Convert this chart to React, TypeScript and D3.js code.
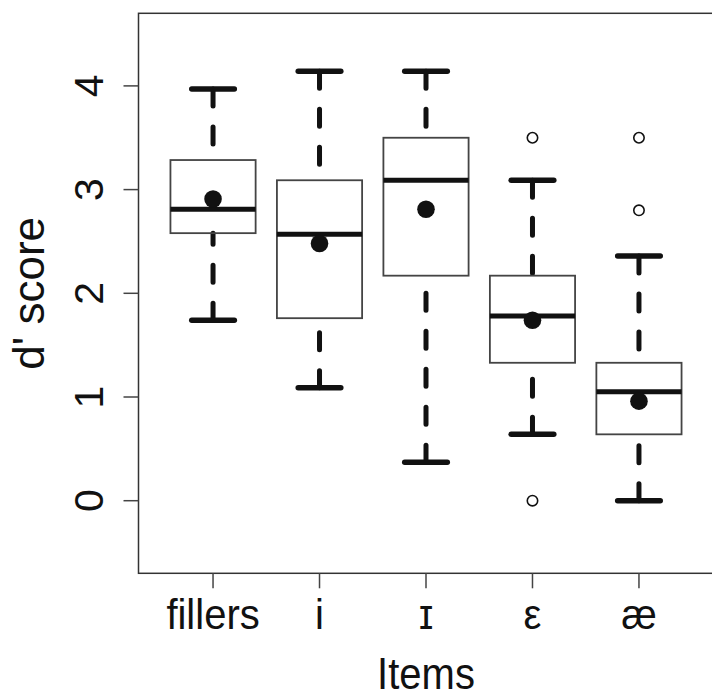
import React from "react";
import * as d3 from "d3";

const categories = ["fillers", "i", "ɪ", "ε", "æ"];
const whiskerLow = [1.74, 1.09, 0.37, 0.64, 0.0];
const q1 = [2.58, 1.76, 2.17, 1.33, 0.64];
const medians = [2.81, 2.57, 3.09, 1.78, 1.05];
const q3 = [3.285, 3.09, 3.5, 2.17, 1.33];
const whiskerHigh = [3.97, 4.14, 4.14, 3.09, 2.36];
const means = [2.91, 2.48, 2.81, 1.74, 0.96];
const outliers: number[][] = [[], [], [], [3.5, 0], [3.5, 2.8]];
const yTicks = [0, 1, 2, 3, 4];
const yLabel = "d' score";
const xLabel = "Items";

export default function App() {
  const W = 712;
  const H = 698;
  const left = 138.5;
  const right = 713.5;
  const top = 13.3;
  const bottom = 573.3;
  const x = d3.scaleLinear().domain([0.3, categories.length + 0.7]).range([left, right]);
  const y = d3.scaleLinear().domain([-0.7, 4.7]).range([bottom, top]);
  const boxHalf = x(1.4) - x(1);
  const stapleHalf = x(1.2) - x(1);
  const font = "'Liberation Sans', Arial, Helvetica, sans-serif";
  const ink = "#111";

  return (
    <div style={{ position: "absolute", left: 0, top: 0 }}>
      <svg width={W} height={H} style={{ display: "block", background: "#fff" }}>
        {/* frame */}
        <rect x={left} y={top} width={right - left} height={bottom - top} fill="none" stroke="#333" strokeWidth={1.5} />
        {/* y axis ticks */}
        {yTicks.map((t) => (
          <g key={"yt" + t}>
            <line x1={left - 15} x2={left} y1={y(t)} y2={y(t)} stroke="#444" strokeWidth={1.5} />
            <text
              transform={`translate(${103},${y(t)}) rotate(-90)`}
              textAnchor="middle"
              fontFamily={font}
              fontSize={41}
              fill={ink}
            >
              {t}
            </text>
          </g>
        ))}
        {/* x axis ticks */}
        {categories.map((c, i) => (
          <g key={"xt" + i}>
            <line x1={x(i + 1)} x2={x(i + 1)} y1={bottom} y2={bottom + 15} stroke="#444" strokeWidth={1.5} />
            <text
              transform={`translate(${x(i + 1)},${629}) scale(1,1.08)`}
              textAnchor="middle"
              fontFamily={font}
              fontSize={40}
              fill={ink}
            >
              {c}
            </text>
          </g>
        ))}
        {/* axis titles */}
        <text
          transform={`translate(${(left + right) / 2},${689}) scale(1,1.12)`}
          textAnchor="middle"
          fontFamily={font}
          fontSize={40}
          fill={ink}
        >
          {xLabel}
        </text>
        <text
          transform={`translate(${44},${(top + bottom) / 2}) rotate(-90)`}
          textAnchor="middle"
          fontFamily={font}
          fontSize={44}
          fill={ink}
        >
          {yLabel}
        </text>
        {/* boxes */}
        {categories.map((c, i) => {
          const cx = x(i + 1);
          return (
            <g key={"b" + i}>
              {/* whiskers */}
              <line x1={cx} x2={cx} y1={y(whiskerHigh[i])} y2={y(q3[i])} stroke={ink} strokeWidth={5} strokeDasharray="17 21" strokeLinecap="round" />
              <line x1={cx} x2={cx} y1={y(whiskerLow[i])} y2={y(q1[i])} stroke={ink} strokeWidth={5} strokeDasharray="17 21" strokeLinecap="round" />
              {/* staples */}
              <line x1={cx - stapleHalf} x2={cx + stapleHalf} y1={y(whiskerHigh[i])} y2={y(whiskerHigh[i])} stroke={ink} strokeWidth={5.5} strokeLinecap="round" />
              <line x1={cx - stapleHalf} x2={cx + stapleHalf} y1={y(whiskerLow[i])} y2={y(whiskerLow[i])} stroke={ink} strokeWidth={5.5} strokeLinecap="round" />
              {/* box */}
              <rect x={cx - boxHalf} y={y(q3[i])} width={2 * boxHalf} height={y(q1[i]) - y(q3[i])} fill="none" stroke="#444" strokeWidth={1.8} />
              {/* median */}
              <line x1={cx - boxHalf} x2={cx + boxHalf} y1={y(medians[i])} y2={y(medians[i])} stroke={ink} strokeWidth={5} />
              {/* outliers */}
              {outliers[i].map((o, j) => (
                <circle key={j} cx={cx} cy={y(o)} r={5.2} fill="none" stroke={ink} strokeWidth={1.6} />
              ))}
              {/* mean */}
              <circle cx={cx} cy={y(means[i])} r={8.8} fill={ink} />
            </g>
          );
        })}
      </svg>
    </div>
  );
}
